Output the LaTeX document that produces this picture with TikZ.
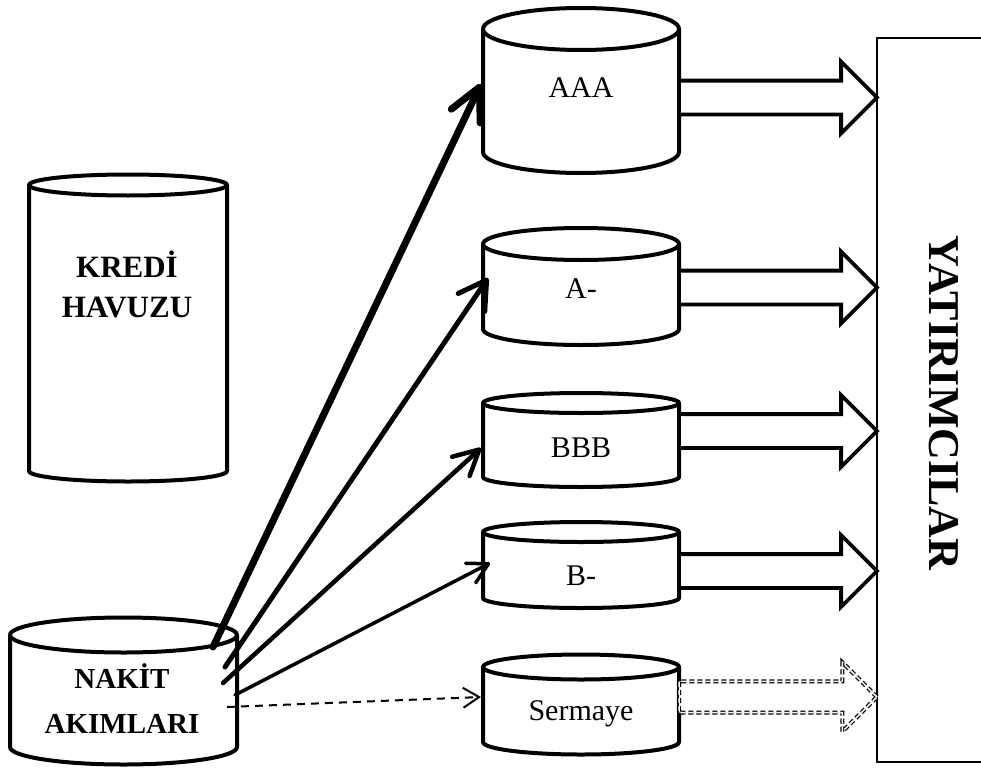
\documentclass[tikz,border=0pt]{standalone}
\usepackage{fontspec}
\setmainfont{Liberation Serif}
\usetikzlibrary{arrows.meta,shapes.arrows,calc}

\tikzset{
  cylline/.style={line width=4pt, draw=black, fill=white, line join=round},
  regtext/.style={font=\fontsize{30}{36}\selectfont, inner sep=0pt, anchor=base},
  boldtext/.style={font=\fontsize{31}{40}\selectfont\bfseries, inner sep=0pt, anchor=base, align=center},
  blockarr/.style={single arrow, draw=black, fill=white, line width=3.8pt,
    minimum height=198pt, minimum width=0pt, inner xsep=0pt, inner ysep=15pt,
    outer sep=0pt, single arrow head extend=19pt, single arrow tip angle=90,
    anchor=tail, line join=miter},
  dashblock/.style={blockarr, line width=1.3pt, double, double distance=1.5pt,
    dash pattern=on 5pt off 3pt},
  flow/.style={draw=black, line cap=round},
}

% cylinder: name, centre x, x radius, top y, bottom y, y radius
\newcommand\tank[6]{%
  \draw[cylline] ({#2-#3},#4) -- ({#2-#3},#5)
     arc[start angle=180, end angle=0, x radius=#3, y radius=#6] -- ({#2+#3},#4);
  \draw[cylline] (#2,#4) ellipse[x radius=#3, y radius=#6];
  \node[inner sep=0pt, outer sep=0pt, minimum width={2*#3*1pt},
        minimum height={(#5-#4)*1pt}] (#1) at (#2,{(#4+#5)/2}) {};
}

\begin{document}
\begin{tikzpicture}[x=1pt, y=-1pt]
\useasboundingbox (0,0) rectangle (981,768);

% pools
\tank{pool}{128}{99}{185}{471}{10.5}
\tank{cash}{123.5}{113.5}{635}{747}{17.5}

% tranches
\tank{aaa}{581}{98}{29}{152}{21}
\tank{amin}{581}{98}{244}{329}{16}
\tank{bbb}{581}{98}{403}{477}{10}
\tank{bmin}{581}{98}{532}{598}{10}
\tank{equity}{581}{98}{667}{742}{12.5}

% investors
\node[draw=black, line width=1.5pt, minimum width=150pt, minimum height=724pt,
      anchor=north west, inner sep=0pt, outer sep=0pt] (inv) at (877,38) {};
\node[font=\fontsize{44}{50}\selectfont\bfseries, rotate=-90, inner sep=0pt]
      (invlabel) at (944,403) {YATIRIMCILAR};

% payments to investors
\node[blockarr] (paa) at (aaa.east |- 0,97.5) {};
\node[blockarr] (pam) at (amin.east |- 0,287.5) {};
\node[blockarr] (pbb) at (bbb.east |- 0,431) {};
\node[blockarr] (pbm) at (bmin.east |- 0,571) {};
\node[dashblock] (peq) at (equity.east |- 0,697) {};

% labels (base anchor sits on the last line)
\node[boldtext] (poollabel) at (127,317) {KREDİ\\HAVUZU};
\node[boldtext, font=\fontsize{29}{45}\selectfont\bfseries] (cashlabel) at (122,733) {NAKİT\\AKIMLARI};
\node[regtext] (aaalabel) at (581,97) {AAA};
\node[regtext] (aminlabel) at (581,298) {A-};
\node[regtext] (bbblabel) at (581,457) {BBB};
\node[regtext] (bminlabel) at (581,585) {B-};
\node[regtext] (equitylabel) at (581,720) {Sermaye};

% cash flow allocation
\draw[flow, line width=7pt, -{Straight Barb[length=32pt,width=32pt,round]}]
  ([shift={(-24,-44)}]cash.east) -- ([shift={(-2,-6.5)}]aaa.west);
\draw[flow, line width=5pt, -{Straight Barb[length=27pt,width=32pt,round]}]
  ([shift={(-12,-24)}]cash.east) -- ([shift={(5,-8.5)}]amin.west);
\draw[flow, line width=4.5pt, -{Straight Barb[length=25pt,width=26pt,round]}]
  ([shift={(-14,-8)}]cash.east) -- ([shift={(-2,8)}]bbb.west);
\draw[flow, line width=3.5pt, -{Straight Barb[length=20pt,width=22pt,round]}]
  ([shift={(-2,4)}]cash.east) -- ([shift={(7,-2)}]bmin.west);
\draw[flow, line width=2pt, line cap=butt, dash pattern=on 8pt off 6pt,
      -{Straight Barb[length=16pt,width=20pt]}]
  ([shift={(-10,16)}]cash.east) -- ([shift={(-2,-7.5)}]equity.west);
\end{tikzpicture}
\end{document}
